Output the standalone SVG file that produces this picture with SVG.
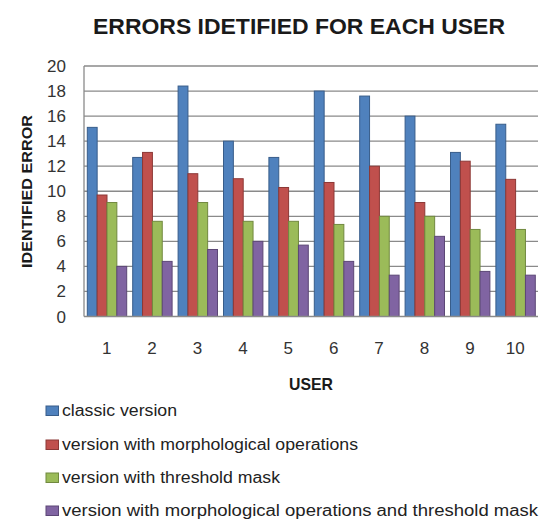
<svg xmlns="http://www.w3.org/2000/svg" width="543" height="521" viewBox="0 0 543 521">
<style>
text{font-family:"Liberation Sans",Arial,sans-serif;fill:#1a1a1a}
.t{font-size:22px;font-weight:bold}
.ax{font-size:14px;font-weight:bold}
.tick{font-size:17px;fill:#333}
.lg{font-size:16px;fill:#222}
.grid{stroke:#8a8a8a;stroke-width:1.3}
.b{stroke:#385D8A;fill:#4F81BD;stroke-width:1}
.r{stroke:#8C3836;fill:#C0504D;stroke-width:1}
.g{stroke:#71893F;fill:#9BBB59;stroke-width:1}
.p{stroke:#5C4776;fill:#8064A2;stroke-width:1}
</style>
<rect width="543" height="521" fill="#fff"/>
<g id="title"><text class="t" x="93" y="33.5" textLength="412" lengthAdjust="spacingAndGlyphs">ERRORS IDETIFIED FOR EACH USER</text></g>
<g id="grid">
<line class="grid" x1="84" y1="66" x2="538" y2="66"/>
<line class="grid" x1="84" y1="91.05" x2="538" y2="91.05"/>
<line class="grid" x1="84" y1="116.1" x2="538" y2="116.1"/>
<line class="grid" x1="84" y1="141.15" x2="538" y2="141.15"/>
<line class="grid" x1="84" y1="166.2" x2="538" y2="166.2"/>
<line class="grid" x1="84" y1="191.25" x2="538" y2="191.25"/>
<line class="grid" x1="84" y1="216.3" x2="538" y2="216.3"/>
<line class="grid" x1="84" y1="241.35" x2="538" y2="241.35"/>
<line class="grid" x1="84" y1="266.4" x2="538" y2="266.4"/>
<line class="grid" x1="84" y1="291.45" x2="538" y2="291.45"/>
<line class="grid" x1="84" y1="66" x2="84" y2="316.5"/>
</g>
<g id="yaxis" text-anchor="end">
<text class="tick" x="66" y="72">20</text>
<text class="tick" x="66" y="97">18</text>
<text class="tick" x="66" y="122.1">16</text>
<text class="tick" x="66" y="147.1">14</text>
<text class="tick" x="66" y="172.2">12</text>
<text class="tick" x="66" y="197.2">10</text>
<text class="tick" x="66" y="222.3">8</text>
<text class="tick" x="66" y="247.3">6</text>
<text class="tick" x="66" y="272.4">4</text>
<text class="tick" x="66" y="297.4">2</text>
<text class="tick" x="66" y="322.5">0</text>
</g>
<g id="ytitle"><text class="ax" transform="translate(31.5,191.5) rotate(-90)" text-anchor="middle" textLength="153" lengthAdjust="spacingAndGlyphs">IDENTIFIED ERROR</text></g>
<g id="user1" transform="translate(87.3,0)"><rect class="b" x="0" y="127.37" width="9.85" height="189.13"/><rect class="r" x="9.85" y="195.01" width="9.85" height="121.49"/><rect class="g" x="19.7" y="202.52" width="9.85" height="113.98"/><rect class="p" x="29.55" y="266.4" width="9.85" height="50.1"/></g>
<g id="user2" transform="translate(132.7,0)"><rect class="b" x="0" y="157.43" width="9.85" height="159.07"/><rect class="r" x="9.85" y="152.42" width="9.85" height="164.08"/><rect class="g" x="19.7" y="221.31" width="9.85" height="95.19"/><rect class="p" x="29.55" y="261.39" width="9.85" height="55.11"/></g>
<g id="user3" transform="translate(178.1,0)"><rect class="b" x="0" y="86.04" width="9.85" height="230.46"/><rect class="r" x="9.85" y="173.71" width="9.85" height="142.79"/><rect class="g" x="19.7" y="202.52" width="9.85" height="113.98"/><rect class="p" x="29.55" y="249.49" width="9.85" height="67.01"/></g>
<g id="user4" transform="translate(223.5,0)"><rect class="b" x="0" y="141.15" width="9.85" height="175.35"/><rect class="r" x="9.85" y="178.72" width="9.85" height="137.78"/><rect class="g" x="19.7" y="221.31" width="9.85" height="95.19"/><rect class="p" x="29.55" y="241.35" width="9.85" height="75.15"/></g>
<g id="user5" transform="translate(268.9,0)"><rect class="b" x="0" y="157.43" width="9.85" height="159.07"/><rect class="r" x="9.85" y="187.49" width="9.85" height="129.01"/><rect class="g" x="19.7" y="221.31" width="9.85" height="95.19"/><rect class="p" x="29.55" y="245.11" width="9.85" height="71.39"/></g>
<g id="user6" transform="translate(314.3,0)"><rect class="b" x="0" y="91.05" width="9.85" height="225.45"/><rect class="r" x="9.85" y="182.48" width="9.85" height="134.02"/><rect class="g" x="19.7" y="224.44" width="9.85" height="92.06"/><rect class="p" x="29.55" y="261.39" width="9.85" height="55.11"/></g>
<g id="user7" transform="translate(359.7,0)"><rect class="b" x="0" y="96.06" width="9.85" height="220.44"/><rect class="r" x="9.85" y="166.2" width="9.85" height="150.3"/><rect class="g" x="19.7" y="216.3" width="9.85" height="100.2"/><rect class="p" x="29.55" y="275.17" width="9.85" height="41.33"/></g>
<g id="user8" transform="translate(405.1,0)"><rect class="b" x="0" y="116.1" width="9.85" height="200.4"/><rect class="r" x="9.85" y="202.52" width="9.85" height="113.98"/><rect class="g" x="19.7" y="216.3" width="9.85" height="100.2"/><rect class="p" x="29.55" y="236.34" width="9.85" height="80.16"/></g>
<g id="user9" transform="translate(450.5,0)"><rect class="b" x="0" y="152.42" width="9.85" height="164.08"/><rect class="r" x="9.85" y="161.19" width="9.85" height="155.31"/><rect class="g" x="19.7" y="229.45" width="9.85" height="87.05"/><rect class="p" x="29.55" y="271.41" width="9.85" height="45.09"/></g>
<g id="user10" transform="translate(495.9,0)"><rect class="b" x="0" y="124.24" width="9.85" height="192.26"/><rect class="r" x="9.85" y="179.35" width="9.85" height="137.15"/><rect class="g" x="19.7" y="229.45" width="9.85" height="87.05"/><rect class="p" x="29.55" y="275.17" width="9.85" height="41.33"/></g>
<g id="baseline"><line class="grid" x1="84" y1="316.5" x2="538" y2="316.5"/></g>
<g id="xaxis" text-anchor="middle">
<text class="tick" x="106.7" y="353.5">1</text>
<text class="tick" x="152.1" y="353.5">2</text>
<text class="tick" x="197.5" y="353.5">3</text>
<text class="tick" x="242.9" y="353.5">4</text>
<text class="tick" x="288.3" y="353.5">5</text>
<text class="tick" x="333.7" y="353.5">6</text>
<text class="tick" x="379.1" y="353.5">7</text>
<text class="tick" x="424.5" y="353.5">8</text>
<text class="tick" x="469.9" y="353.5">9</text>
<text class="tick" x="515.3" y="353.5">10</text>
</g>
<g id="xtitle"><text class="ax" x="311" y="390" text-anchor="middle" style="font-size:17px" textLength="44" lengthAdjust="spacingAndGlyphs">USER</text></g>
<g id="legend">
<rect class="b" x="46" y="406" width="12.5" height="9.5"/>
<text class="lg" x="62" y="416" textLength="115" lengthAdjust="spacingAndGlyphs">classic version</text>
<rect class="r" x="46" y="440" width="12.5" height="9.5"/>
<text class="lg" x="62" y="450" textLength="296" lengthAdjust="spacingAndGlyphs">version with morphological operations</text>
<rect class="g" x="46" y="473" width="12.5" height="9.5"/>
<text class="lg" x="62" y="483" textLength="218" lengthAdjust="spacingAndGlyphs">version with threshold mask</text>
<rect class="p" x="46" y="506" width="12.5" height="9.5"/>
<text class="lg" x="62" y="516" textLength="476" lengthAdjust="spacingAndGlyphs">version with morphological operations and threshold mask</text>
</g>
</svg>
